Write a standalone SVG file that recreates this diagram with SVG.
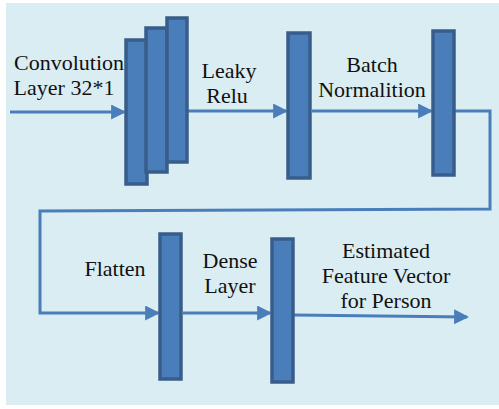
<svg xmlns="http://www.w3.org/2000/svg" width="499" height="409" viewBox="0 0 499 409">
<defs>
<style>
.bar{fill:#4a7ebb;stroke:#385d8a;stroke-width:3.5}
.ln{fill:none;stroke:#4a7ebb;stroke-width:3}
text{font-family:'Times New Roman',Tinos,'Liberation Serif','Noto Serif','DejaVu Serif',serif;font-size:22px;fill:#111;text-anchor:middle}
</style>
<marker id="ah" markerWidth="5" markerHeight="5" refX="4.3" refY="2.5" orient="auto" markerUnits="strokeWidth">
<path d="M0,0 L5,2.5 L0,5 z" fill="#4a7ebb"/>
</marker>
</defs>
<rect x="6" y="3" width="493" height="402" fill="#daedf3"/>
<g id="connectors">
<line class="ln" x1="10" y1="112" x2="124" y2="112" marker-end="url(#ah)"/>
<line class="ln" x1="188" y1="111" x2="286" y2="111" marker-end="url(#ah)"/>
<line class="ln" x1="312" y1="111" x2="431" y2="111" marker-end="url(#ah)"/>
<polyline class="ln" points="455,111 490,111 490,209 40,211 40,313 158,313" marker-end="url(#ah)"/>
<line class="ln" x1="183" y1="313" x2="270" y2="313" marker-end="url(#ah)"/>
<line class="ln" x1="294" y1="315" x2="467" y2="317" marker-end="url(#ah)"/>
</g>
<g id="conv">
<rect class="bar" x="126" y="40" width="21" height="144"/>
<rect class="bar" x="146" y="28" width="21" height="144"/>
<rect class="bar" x="167" y="18" width="20" height="144"/>
<text x="69" y="70">Convolution</text>
<text x="64" y="95">Layer 32*1</text>
</g>
<g id="leaky">
<rect class="bar" x="288" y="33" width="22" height="145"/>
<text x="229" y="78">Leaky</text>
<text x="227" y="103">Relu</text>
</g>
<g id="batch">
<rect class="bar" x="433" y="31" width="21" height="144"/>
<text x="372" y="72">Batch</text>
<text x="372" y="97">Normalition</text>
</g>
<g id="flatten">
<rect class="bar" x="160" y="234" width="21" height="145"/>
<text x="115" y="276">Flatten</text>
</g>
<g id="dense">
<rect class="bar" x="272" y="239" width="21" height="143"/>
<text x="230" y="268">Dense</text>
<text x="230" y="293">Layer</text>
</g>
<g id="output">
<text x="386" y="258">Estimated</text>
<text x="386" y="283">Feature Vector</text>
<text x="386" y="308">for Person</text>
</g>
</svg>
